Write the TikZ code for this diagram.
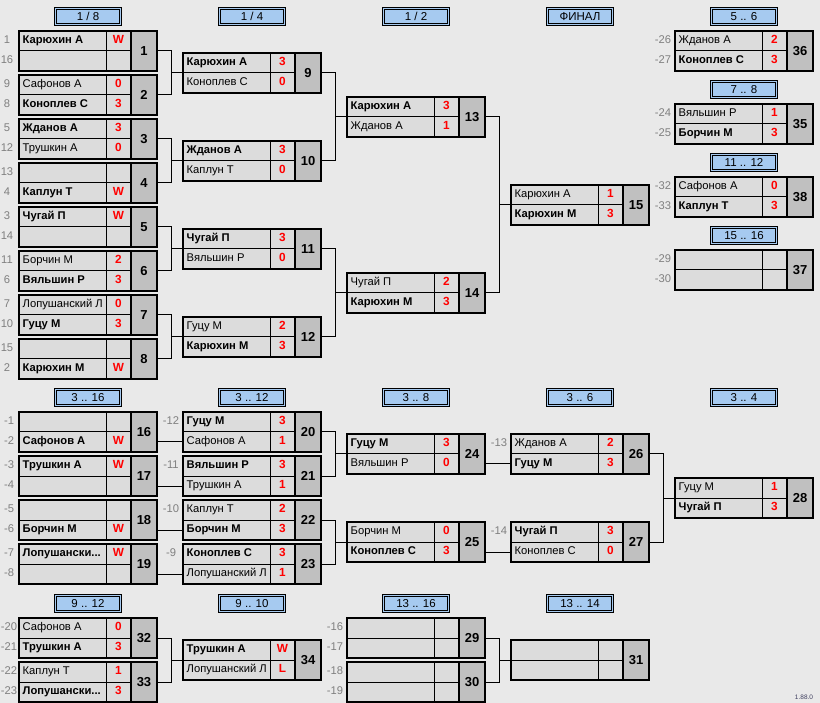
\documentclass[tikz,border=0pt]{standalone}
\usepackage{fontspec}
\setmainfont{Liberation Sans}
\definecolor{bgc}{HTML}{E9E9E9}
\definecolor{cellc}{HTML}{DCDCDC}
\definecolor{numc}{HTML}{C0C0C0}
\definecolor{hdrc}{HTML}{A6CAF0}
\definecolor{seedc}{HTML}{808080}
\definecolor{scorec}{HTML}{FF0000}
\definecolor{verc}{HTML}{404060}
\tikzset{
 mframe/.style={draw=black, line width=2.6pt, fill=cellc, minimum width=138pt, minimum height=40pt, inner sep=0pt, outer sep=0pt, anchor=north west},
 numcell/.style={draw=black, line width=2.6pt, fill=numc, minimum width=26pt, minimum height=40pt, inner sep=0pt, outer sep=0pt, anchor=north west, font=\fontsize{13}{15}\selectfont\bfseries},
 nm/.style={anchor=west, inner sep=0pt, text height=8.3pt, text depth=2.6pt, font=\fontsize{11.2}{13}\selectfont},
 sc/.style={inner sep=0pt, text height=8.3pt, text depth=2.6pt, text=scorec, font=\fontsize{11.8}{13}\selectfont\bfseries},
 seed/.style={inner sep=0pt, text height=8.3pt, text depth=2.6pt, text=seedc, font=\fontsize{11.2}{13}\selectfont},
 hdr/.style={draw=black, double=hdrc, double distance=1.1pt, line width=0.9pt, fill=hdrc, minimum width=65pt, minimum height=16.5pt, inner sep=0pt, font=\fontsize{11.5}{13}\selectfont},
 conn/.style={line width=1pt, draw=black},
 gridline/.style={line width=1pt, draw=black},
}
\newcommand\wn[1]{\textbf{#1}}
% #1 number, #2 x, #3 y(top), #4 name1, #5 score1, #6 name2, #7 score2
\newcommand\mtch[7]{%
 \node[mframe] (m#1) at (#2,#3) {};
 \draw[gridline] (#2,#3+20) -- (#2+112,#3+20);
 \draw[gridline] (#2+87,#3) -- (#2+87,#3+40);
 \node[numcell] (m#1n) at (#2+112,#3) {#1};
 \node[nm] (m#1a) at (#2+3.5,#3+10) {#4};
 \node[nm] (m#1b) at (#2+3.5,#3+30) {#6};
 \node[sc] (m#1sa) at (#2+99.5,#3+10) {#5};
 \node[sc] (m#1sb) at (#2+99.5,#3+30) {#7};
}
\newcommand\brk[3]{%
 \draw[conn] (m#1.east) -- ++(14,0) |- (m#3.west);
 \draw[conn] (m#2.east) -- ++(14,0) |- (m#3.west);
}
\newcommand\strt[2]{\draw[conn] (m#1.east |- m#1b) -- (m#2.west |- m#2b);}
\newcommand\sd[4]{\node[seed] (#1) at (#2,#3) {#4};}
\newcommand\hdrn[4]{\node[hdr] (#1) at (#2,#3) {#4};}
\begin{document}
\begin{tikzpicture}[x=1pt,y=-1pt]
\fill[bgc] (0,0) rectangle (820,703);
\useasboundingbox (0,0) rectangle (820,703);
% headers
\hdrn{h1}{88}{16.5}{1 / 8}
\hdrn{h2}{252}{16.5}{1 / 4}
\hdrn{h3}{416}{16.5}{1 / 2}
\hdrn{h4}{580}{16.5}{ФИНАЛ}
\hdrn{h5}{744}{16.5}{5 .. 6}
\hdrn{h6}{744}{89.5}{7 .. 8}
\hdrn{h7}{744}{162.5}{11 .. 12}
\hdrn{h8}{744}{235.5}{15 .. 16}
\hdrn{h9}{88}{397.5}{3 .. 16}
\hdrn{h10}{252}{397.5}{3 .. 12}
\hdrn{h11}{416}{397.5}{3 .. 8}
\hdrn{h12}{580}{397.5}{3 .. 6}
\hdrn{h13}{744}{397.5}{3 .. 4}
\hdrn{h14}{88}{603.5}{9 .. 12}
\hdrn{h15}{252}{603.5}{9 .. 10}
\hdrn{h16}{416}{603.5}{13 .. 16}
\hdrn{h17}{580}{603.5}{13 .. 14}
% matches upper
\mtch{1}{19}{31}{\wn{Карюхин А}}{W}{}{}
\mtch{2}{19}{75}{Сафонов А}{0}{\wn{Коноплев С}}{3}
\mtch{3}{19}{119}{\wn{Жданов А}}{3}{Трушкин А}{0}
\mtch{4}{19}{163}{}{}{\wn{Каплун Т}}{W}
\mtch{5}{19}{207}{\wn{Чугай П}}{W}{}{}
\mtch{6}{19}{251}{Борчин М}{2}{\wn{Вяльшин Р}}{3}
\mtch{7}{19}{295}{Лопушанский Л}{0}{\wn{Гуцу М}}{3}
\mtch{8}{19}{339}{}{}{\wn{Карюхин М}}{W}
\mtch{9}{183}{53}{\wn{Карюхин А}}{3}{Коноплев С}{0}
\mtch{10}{183}{141}{\wn{Жданов А}}{3}{Каплун Т}{0}
\mtch{11}{183}{229}{\wn{Чугай П}}{3}{Вяльшин Р}{0}
\mtch{12}{183}{317}{Гуцу М}{2}{\wn{Карюхин М}}{3}
\mtch{13}{347}{97}{\wn{Карюхин А}}{3}{Жданов А}{1}
\mtch{14}{347}{273}{Чугай П}{2}{\wn{Карюхин М}}{3}
\mtch{15}{511}{185}{Карюхин А}{1}{\wn{Карюхин М}}{3}
\mtch{36}{675}{31}{Жданов А}{2}{\wn{Коноплев С}}{3}
\mtch{35}{675}{104}{Вяльшин Р}{1}{\wn{Борчин М}}{3}
\mtch{38}{675}{177}{Сафонов А}{0}{\wn{Каплун Т}}{3}
\mtch{37}{675}{250}{}{}{}{}
% matches lower
\mtch{16}{19}{412}{}{}{\wn{Сафонов А}}{W}
\mtch{17}{19}{456}{\wn{Трушкин А}}{W}{}{}
\mtch{18}{19}{500}{}{}{\wn{Борчин М}}{W}
\mtch{19}{19}{544}{\wn{Лопушански...}}{W}{}{}
\mtch{20}{183}{412}{\wn{Гуцу М}}{3}{Сафонов А}{1}
\mtch{21}{183}{456}{\wn{Вяльшин Р}}{3}{Трушкин А}{1}
\mtch{22}{183}{500}{Каплун Т}{2}{\wn{Борчин М}}{3}
\mtch{23}{183}{544}{\wn{Коноплев С}}{3}{Лопушанский Л}{1}
\mtch{24}{347}{434}{\wn{Гуцу М}}{3}{Вяльшин Р}{0}
\mtch{25}{347}{522}{Борчин М}{0}{\wn{Коноплев С}}{3}
\mtch{26}{511}{434}{Жданов А}{2}{\wn{Гуцу М}}{3}
\mtch{27}{511}{522}{\wn{Чугай П}}{3}{Коноплев С}{0}
\mtch{28}{675}{478}{Гуцу М}{1}{\wn{Чугай П}}{3}
\mtch{32}{19}{618}{Сафонов А}{0}{\wn{Трушкин А}}{3}
\mtch{33}{19}{662}{Каплун Т}{1}{\wn{Лопушански...}}{3}
\mtch{34}{183}{640}{\wn{Трушкин А}}{W}{Лопушанский Л}{L}
\mtch{29}{347}{618}{}{}{}{}
\mtch{30}{347}{662}{}{}{}{}
\mtch{31}{511}{640}{}{}{}{}
% connectors
\brk{1}{2}{9}
\brk{3}{4}{10}
\brk{5}{6}{11}
\brk{7}{8}{12}
\brk{9}{10}{13}
\brk{11}{12}{14}
\brk{13}{14}{15}
\brk{20}{21}{24}
\brk{22}{23}{25}
\brk{26}{27}{28}
\brk{32}{33}{34}
\brk{29}{30}{31}
\strt{16}{20}
\strt{17}{21}
\strt{18}{22}
\strt{19}{23}
\strt{24}{26}
\strt{25}{27}
% seeds upper
\sd{s1}{7}{41}{1}
\sd{s2}{7}{61}{16}
\sd{s3}{7}{85}{9}
\sd{s4}{7}{105}{8}
\sd{s5}{7}{129}{5}
\sd{s6}{7}{149}{12}
\sd{s7}{7}{173}{13}
\sd{s8}{7}{193}{4}
\sd{s9}{7}{217}{3}
\sd{s10}{7}{237}{14}
\sd{s11}{7}{261}{11}
\sd{s12}{7}{281}{6}
\sd{s13}{7}{305}{7}
\sd{s14}{7}{325}{10}
\sd{s15}{7}{349}{15}
\sd{s16}{7}{369}{2}
\sd{r1}{663}{41}{-26}
\sd{r2}{663}{61}{-27}
\sd{r3}{663}{114}{-24}
\sd{r4}{663}{134}{-25}
\sd{r5}{663}{187}{-32}
\sd{r6}{663}{207}{-33}
\sd{r7}{663}{260}{-29}
\sd{r8}{663}{280}{-30}
% seeds lower
\sd{l1}{9}{422}{-1}
\sd{l2}{9}{442}{-2}
\sd{l3}{9}{466}{-3}
\sd{l4}{9}{486}{-4}
\sd{l5}{9}{510}{-5}
\sd{l6}{9}{530}{-6}
\sd{l7}{9}{554}{-7}
\sd{l8}{9}{574}{-8}
\sd{l9}{171}{422}{-12}
\sd{l10}{171}{466}{-11}
\sd{l11}{171}{510}{-10}
\sd{l12}{171}{554}{-9}
\sd{l13}{499}{444}{-13}
\sd{l14}{499}{532}{-14}
\sd{b1}{9}{628}{-20}
\sd{b2}{9}{648}{-21}
\sd{b3}{9}{672}{-22}
\sd{b4}{9}{692}{-23}
\sd{b5}{335}{628}{-16}
\sd{b6}{335}{648}{-17}
\sd{b7}{335}{672}{-18}
\sd{b8}{335}{692}{-19}
\node[font=\fontsize{6.5}{7}\selectfont, text=verc, inner sep=0pt] (ver) at (804,697) {1.88.0};
\end{tikzpicture}
\end{document}
